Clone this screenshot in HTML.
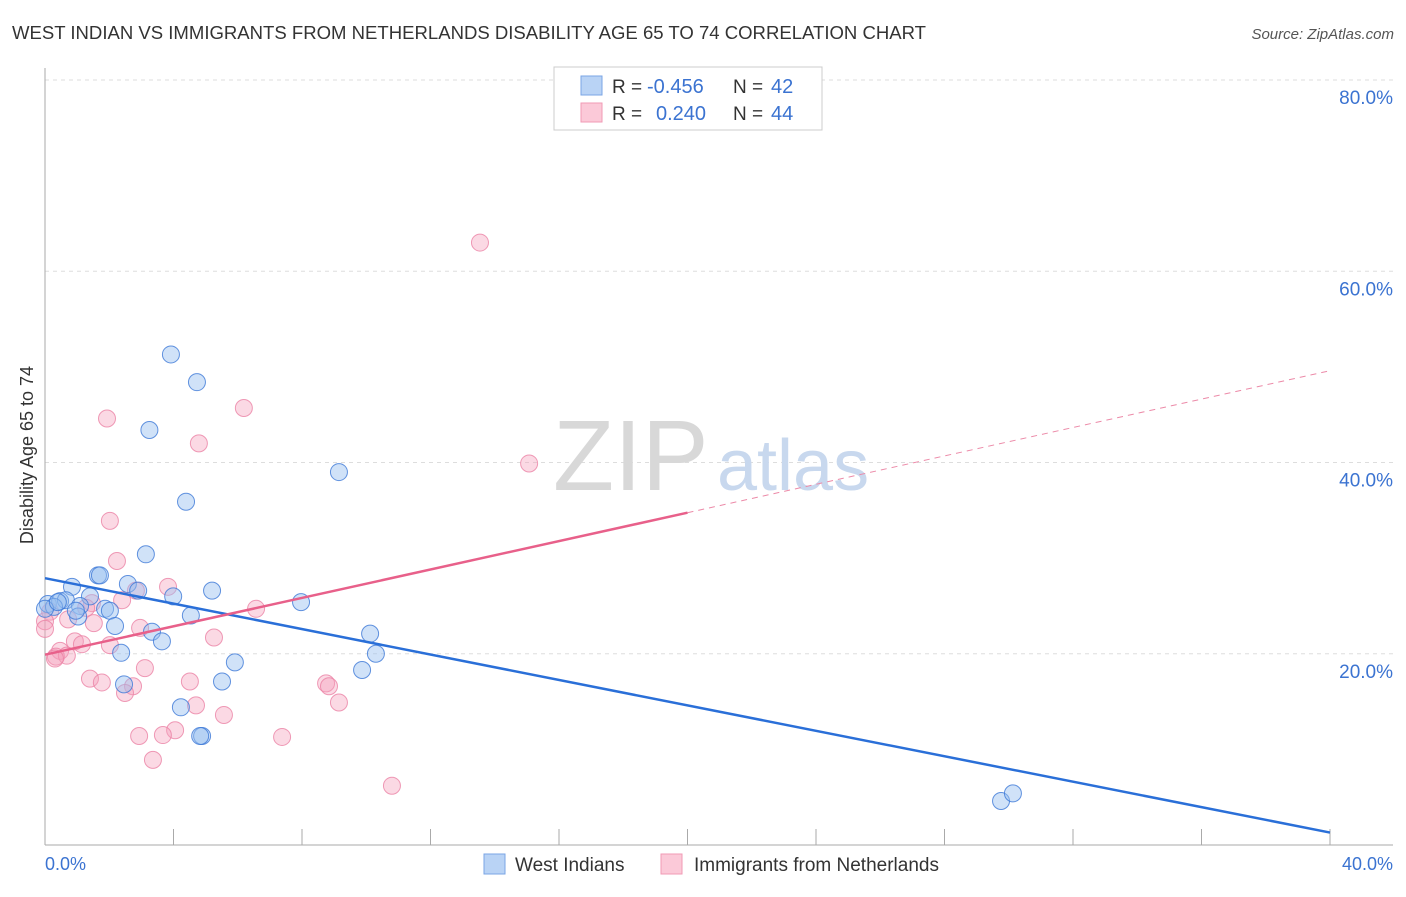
<!DOCTYPE html>
<html><head><meta charset="utf-8"><style>
body{margin:0;background:#fff;font-family:"Liberation Sans",sans-serif;}
svg text{font-family:"Liberation Sans",sans-serif;}
</style></head><body>
<svg width="1406" height="892" xmlns="http://www.w3.org/2000/svg">
<text x="12" y="39" font-size="18" fill="#333" textLength="914" lengthAdjust="spacingAndGlyphs">WEST INDIAN VS IMMIGRANTS FROM NETHERLANDS DISABILITY AGE 65 TO 74 CORRELATION CHART</text>
<text x="1394" y="39" font-size="15" fill="#555" font-style="italic" text-anchor="end">Source: ZipAtlas.com</text>
<g id="grid"></g>
<text x="553" y="490" font-size="100" fill="#d8d8d8" font-family="Liberation Serif,serif">ZIP</text>
<text x="717" y="490" font-size="72" fill="#c8d8ee">atlas</text>
<line x1="45" y1="68" x2="45" y2="845" stroke="#aaa"/>
<line x1="45" y1="845" x2="1393" y2="845" stroke="#aaa"/>
<g id="ticks"></g>
<text x="33" y="455" font-size="18" fill="#333" transform="rotate(-90 33 455)" text-anchor="middle">Disability Age 65 to 74</text>
<text x="45" y="870" font-size="18" fill="#3b73d1">0.0%</text>
<text x="1393" y="870" font-size="18" fill="#3b73d1" text-anchor="end">40.0%</text>
<g id="pts"></g>
<g id="lines"></g>
<g>
<rect x="554" y="67" width="268" height="63" fill="#fff" stroke="#ccc"/>
<rect x="581" y="76" width="21" height="19" fill="#b9d3f5" stroke="#7aa5e5"/>
<rect x="581" y="103" width="21" height="19" fill="#fbc9d8" stroke="#f09ab5"/>
<text x="612" y="93" font-size="19" fill="#333">R =</text>
<text x="647" y="93" font-size="20" fill="#3b73d1">-0.456</text>
<text x="733" y="93" font-size="19" fill="#333">N =</text>
<text x="771" y="93" font-size="20" fill="#3b73d1">42</text>
<text x="612" y="120" font-size="19" fill="#333">R =</text>
<text x="656" y="120" font-size="20" fill="#3b73d1">0.240</text>
<text x="733" y="120" font-size="19" fill="#333">N =</text>
<text x="771" y="120" font-size="20" fill="#3b73d1">44</text>
</g>
<g>
<rect x="484" y="854" width="21" height="20" fill="#b9d3f5" stroke="#7aa5e5"/>
<text x="515" y="871" font-size="19" fill="#333">West Indians</text>
<rect x="661" y="854" width="21" height="20" fill="#fbc9d8" stroke="#f09ab5"/>
<text x="694" y="871" font-size="19" fill="#333">Immigrants from Netherlands</text>
</g>
</svg>
<script>
const yTicks=[20,40,60,80];
const xTickVals=[0,4,8,12,16,20,24,28,32,36,40];
const blueX=[3.92,4.73,3.25,4.39,9.15,3.14,1.65,2.58,2.90,5.20,3.99,7.97,0.84,1.40,0.09,0.47,0.65,0.28,1.09,1.87,2.02,1.03,2.18,4.54,3.33,3.64,2.37,10.12,10.30,9.87,5.91,5.51,2.46,4.23,4.89,4.83,29.76,30.13,0.0,0.40,0.96,1.71];
const blueY=[51.3,48.4,43.4,35.9,39.0,30.4,28.2,27.3,26.6,26.6,26.0,25.4,27.0,26.0,25.2,25.5,25.6,24.9,25.0,24.7,24.5,23.9,22.9,24.0,22.3,21.3,20.1,22.1,20.0,18.3,19.1,17.1,16.8,14.4,11.4,11.4,4.6,5.4,24.7,25.4,24.5,28.2];
const pinkX=[13.54,6.19,1.93,4.79,15.07,2.02,2.24,3.83,2.83,2.40,6.57,1.46,1.28,0.16,0,0,0.72,1.52,5.26,2.96,2.02,0.93,1.15,0.47,0.34,0.68,0.31,3.11,1.40,1.77,4.51,2.74,2.49,4.70,5.57,8.75,8.84,9.15,4.05,3.67,2.93,7.38,3.36,10.80];
const pinkY=[63.0,45.7,44.6,42.0,39.9,33.9,29.7,27.0,26.6,25.6,24.7,25.3,24.8,24.4,23.4,22.6,23.6,23.2,21.7,22.7,20.9,21.3,21.0,20.3,19.7,19.8,19.5,18.5,17.4,17.0,17.1,16.6,15.9,14.6,13.6,16.9,16.6,14.9,12.0,11.5,11.4,11.3,8.9,6.2];
const blueLine=[27.9,1.3]; // y at x=0, x=40
const pinkLine=[19.9,49.6];
const pinkSolidEnd=20;
const NS="http://www.w3.org/2000/svg";
const X=v=>45+v*32.125, Y=v=>845-v*9.5625;
const mk=(t,a,p)=>{const e=document.createElementNS(NS,t);for(const k in a)e.setAttribute(k,a[k]);p.appendChild(e);return e;};
const grid=document.getElementById('grid');
yTicks.forEach(v=>{
 const l=mk('line',{x1:45,x2:1393,y1:Y(v),y2:Y(v),stroke:'#ddd','stroke-dasharray':'4,4'},grid);
 
 
 const t=mk('text',{x:1393,y:Y(v)+24,'font-size':19,fill:'#3b73d1','text-anchor':'end'},grid);
 t.textContent=v.toFixed(1)+'%';
 
 
});
const tk=document.getElementById('ticks');
xTickVals.forEach(v=>{
 const l=mk('line',{x1:X(v),x2:X(v),y1:829,y2:845,stroke:'#aaa'},tk);
 
 
});
const pts=document.getElementById('pts');
pinkX.forEach((x,i)=>{
 const c=mk('circle',{cx:X(x),cy:Y(pinkY[i]),r:8.5,fill:'rgba(246,160,188,0.4)',stroke:'rgba(235,130,165,0.8)','stroke-width':1},pts);
 
 
});
blueX.forEach((x,i)=>{
 const c=mk('circle',{cx:X(x),cy:Y(blueY[i]),r:8.5,fill:'rgba(150,190,240,0.45)',stroke:'rgba(60,120,215,0.8)','stroke-width':1},pts);
 
 
});
const ln=document.getElementById('lines');
const b=mk('line',{x1:X(0),y1:Y(blueLine[0]),x2:X(40),y2:Y(blueLine[1]),stroke:'#2a6fd8','stroke-width':2.5},ln);


const pAt=x=>pinkLine[0]+(pinkLine[1]-pinkLine[0])*x/40;
const p=mk('line',{x1:X(0),y1:Y(pAt(0)),x2:X(pinkSolidEnd),y2:Y(pAt(pinkSolidEnd)),stroke:'#e8608a','stroke-width':2.5},ln);


const pd=mk('line',{x1:X(pinkSolidEnd),y1:Y(pAt(pinkSolidEnd)),x2:X(40),y2:Y(pAt(40)),stroke:'#ec8aa8','stroke-width':1,'stroke-dasharray':'6,5'},ln);


</script>
</body></html>
